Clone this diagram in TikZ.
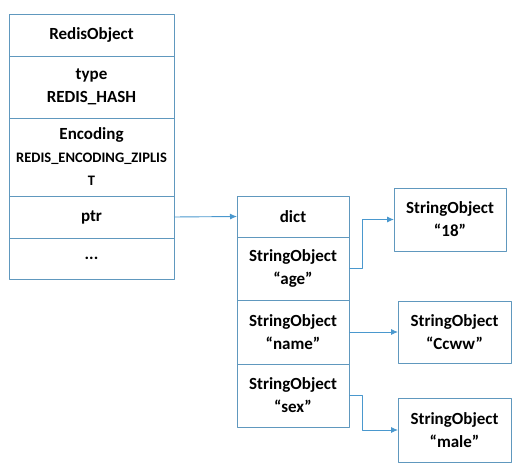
\documentclass[tikz,border=0pt]{standalone}
\usepackage{fontspec}
\setmainfont{Carlito}
\usetikzlibrary{positioning,arrows.meta}
\definecolor{boxblue}{RGB}{96,152,190}
\definecolor{arrowblue}{RGB}{74,152,206}
\begin{document}
\begin{tikzpicture}[x=1pt, y=-1pt, font=\fontsize{17}{23}\selectfont\bfseries, line join=round, >={Latex[length=7pt,width=6pt]}]
	\tikzset{cell/.style={draw=boxblue, line width=0.9pt, outer sep=0pt, inner sep=0pt, align=center, text=black},
		link/.style={->, draw=arrowblue, line width=0.9pt}}
	\useasboundingbox (0,0) rectangle (519,470);
	% RedisObject
	\node[cell, minimum width=165, minimum height=42] (ro) at (91.5,35) {RedisObject};
	\node[cell, minimum width=165, minimum height=62, below=0pt of ro] (type) {type\\REDIS\_HASH};
	\node[cell, minimum width=165, minimum height=78, below=0pt of type] (enc) {Encoding\\{\fontsize{14.5}{23}\selectfont REDIS\_ENCODING\_ZIPLIS}\\{\fontsize{14.5}{23}\selectfont T}};
	\node[cell, minimum width=165, minimum height=42, below=0pt of enc] (ptr) {ptr};
	\node[cell, minimum width=165, minimum height=41, below=0pt of ptr] (more) {...};
	% dict
	\node[cell, minimum width=112, minimum height=41] (dict) at (293,216.5) {dict};
	\node[cell, minimum width=112, minimum height=63, below=0pt of dict] (age) {StringObject\\“age”};
	\node[cell, minimum width=112, minimum height=64, below=0pt of age] (name) {StringObject\\“name”};
	\node[cell, minimum width=112, minimum height=63, below=0pt of name] (sex) {StringObject\\“sex”};
	% values
	\node[cell, minimum width=112, minimum height=63] (v18) at (450,219.5) {StringObject\\“18”};
	\node[cell, minimum width=113, minimum height=62] (vccww) at (454.5,332) {StringObject\\“Ccww”};
	\node[cell, minimum width=113, minimum height=64] (vmale) at (454.5,430) {StringObject\\“male”};
	% pointers
	\draw[link] (ptr.east) -- (dict.west);
	\draw[link] (age.east) -- ++(13,0) |- (v18.west);
	\draw[link] (name.east) -- (vccww.west);
	\draw[link] (sex.east) -- ++(13,0) |- (vmale.west);
\end{tikzpicture}
\end{document}
